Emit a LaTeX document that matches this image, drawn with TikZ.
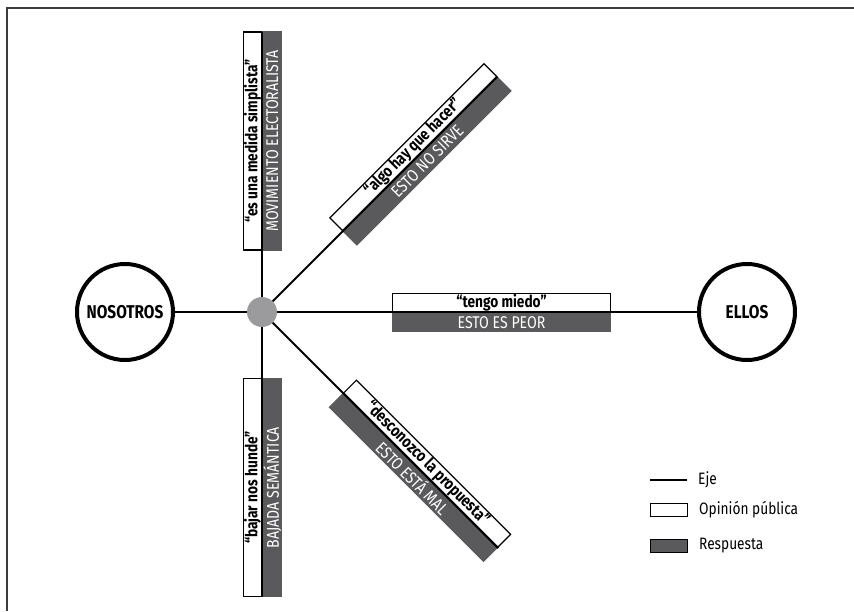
\documentclass[tikz,border=0pt]{standalone}
\usepackage{fontspec}
\setmainfont{Fira Sans}[FakeStretch=0.83]
\usetikzlibrary{positioning}
\definecolor{respuestagris}{HTML}{5A5A5C}
\definecolor{centrogris}{HTML}{9B9B9D}
\definecolor{marcogris}{HTML}{3C3C3C}

\begin{document}
\begin{tikzpicture}[x=1pt, y=1pt,
eje/.style={line width=2pt},
actor/.style={circle, draw, line width=4pt, minimum size=96pt, inner sep=0pt, font=\bfseries\fontsize{18.5}{18.5}\selectfont},
opinion/.style={draw, fill=white, line width=1.2pt, minimum width=218pt, minimum height=18pt, inner sep=0pt, anchor=south, font=\bfseries\fontsize{16.5}{16.5}\selectfont},
respuesta/.style={fill=respuestagris, text=white, minimum width=219pt, minimum height=20pt, inner sep=0pt, anchor=north, font=\fontsize{17}{17}\selectfont},
leyenda/.style={anchor=west, inner sep=0pt, font=\fontsize{16.5}{16.5}\selectfont},]
%fixed size of the picture
\useasboundingbox (-262,-299) rectangle (592,312);
\draw[marcogris, line width=1.5pt] (-255,-299) -- (-255,304) -- (592,304);

	\node[actor] (nosotros) at (-137,0) {NOSOTROS};
	\node[actor] (ellos) at (485,0) {ELLOS};
	\node[circle, fill=centrogris, minimum size=30pt, inner sep=0pt] (hub) at (0,0) {};

	\node[opinion, rotate=90] (opNorte) at (90:171) {“es una medida simplista”};
	\node[respuesta, rotate=90] (reNorte) at (90:171) {MOVIMIENTO ELECTORALISTA};
	\node[opinion, rotate=45] (opNoreste) at (45:223.5) {“algo hay que hacer”};
	\node[respuesta, rotate=45] (reNoreste) at (45:223.5) {ESTO NO SIRVE};
	\node[opinion] (opEste) at (239.5,0) {“tengo miedo”};
	\node[respuesta] (reEste) at (239.5,0) {ESTO ES PEOR};
	\node[opinion, rotate=-45] (opSureste) at (-45:224) {“desconozco la propuesta”};
	\node[respuesta, rotate=-45] (reSureste) at (-45:224) {ESTO ESTÁ MAL};
	\node[opinion, rotate=90] (opSur) at (0,-175.5) {“bajar nos hunde”};
	\node[respuesta, rotate=90] (reSur) at (0,-175.5) {BAJADA SEMÁNTICA};

	\coordinate (finNorte) at (90:280);
	\coordinate (finNoreste) at (45:333);
	\coordinate (finSureste) at (-45:334);
	\coordinate (finSur) at (-90:285);
	\draw[eje] (nosotros) -- (hub) -- (ellos);
	\draw[eje] (hub) -- (finNorte);
	\draw[eje] (hub) -- (finNoreste);
	\draw[eje] (hub) -- (finSureste);
	\draw[eje] (hub) -- (finSur);

	\coordinate (leyEjeA) at (388,-168);
	\coordinate (leyEjeB) at (425,-168);
	\draw[eje] (leyEjeA) -- (leyEjeB);
	\node[leyenda, right=11pt of leyEjeB] (txtEje) {Eje};
	\node[draw, line width=1pt, fill=white, minimum width=37pt, minimum height=13pt, inner sep=0pt, anchor=west] (leyOpinion) at (388,-198) {};
	\node[leyenda, right=11pt of leyOpinion] (txtOpinion) {Opinión pública};
	\node[draw, line width=1pt, fill=respuestagris, minimum width=37pt, minimum height=13pt, inner sep=0pt, anchor=west] (leyRespuesta) at (388,-234) {};
	\node[leyenda, right=11pt of leyRespuesta] (txtRespuesta) {Respuesta};
\end{tikzpicture}
\end{document}
